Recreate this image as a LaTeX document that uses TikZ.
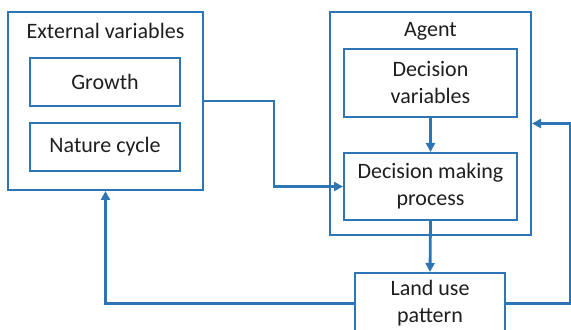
\documentclass[tikz,border=0pt]{standalone}
\usepackage{fontspec}
\setmainfont{Carlito}
\usetikzlibrary{arrows.meta}
\definecolor{figblue}{RGB}{46,117,182}
\definecolor{figtext}{RGB}{30,30,30}
\tikzset{
  figtitle/.style={draw=none, fill=none, text=figtext, font=\fontsize{11}{13.5}\selectfont, inner sep=0pt},
  figframe/.style={draw=figblue, line width=1pt, fill=none},
  bigbox/.style={figframe, minimum width=#1, inner sep=0pt},
  subbox/.style={figframe, text=figtext, font=\fontsize{11}{13.5}\selectfont, align=center, inner sep=0pt, minimum width=#1},
  flow/.style={draw=figblue, line width=1.4pt, -{Triangle[length=4.5pt,width=4.5pt]}},
}
\begin{document}
\begin{tikzpicture}[x=0.5pt,y=-0.5pt]
\useasboundingbox (0,0) rectangle (571,330);
\clip (0,0) rectangle (571,330);
% external side
\node[bigbox=97.5pt, minimum height=89pt] (ext) at (105.5,101) {};
\node[figtitle] (exttitle) at (105.5,31) {External variables};
\node[subbox=75pt, minimum height=24pt] (growth) at (105,82) {Growth};
\node[subbox=75pt, minimum height=24pt] (nature) at (105,147) {Nature cycle};
% agent side
\node[bigbox=100.5pt, minimum height=111.5pt] (agent) at (430.5,123.5) {};
\node[figtitle] (agenttitle) at (430.5,31) {Agent};
\node[subbox=86.5pt, minimum height=34pt] (dvar) at (430.5,83) {Decision\\variables};
\node[subbox=86.5pt, minimum height=33.5pt] (dmp) at (430.5,186.5) {Decision making\\process};
\node[subbox=75pt, minimum height=30.5pt] (land) at (430,303.5) {Land use\\pattern};
% connectors
\draw[flow] (ext.east) -- ++(70,0) |- (dmp.west);
\draw[flow] (dvar.south) -- (dmp.north);
\draw[flow] (dmp.south) -- (land.north);
\draw[flow] (land.west) -| (ext.south);
\draw[flow] (land.east) -- ++(64,0) |- (agent.east);
\end{tikzpicture}
\end{document}
